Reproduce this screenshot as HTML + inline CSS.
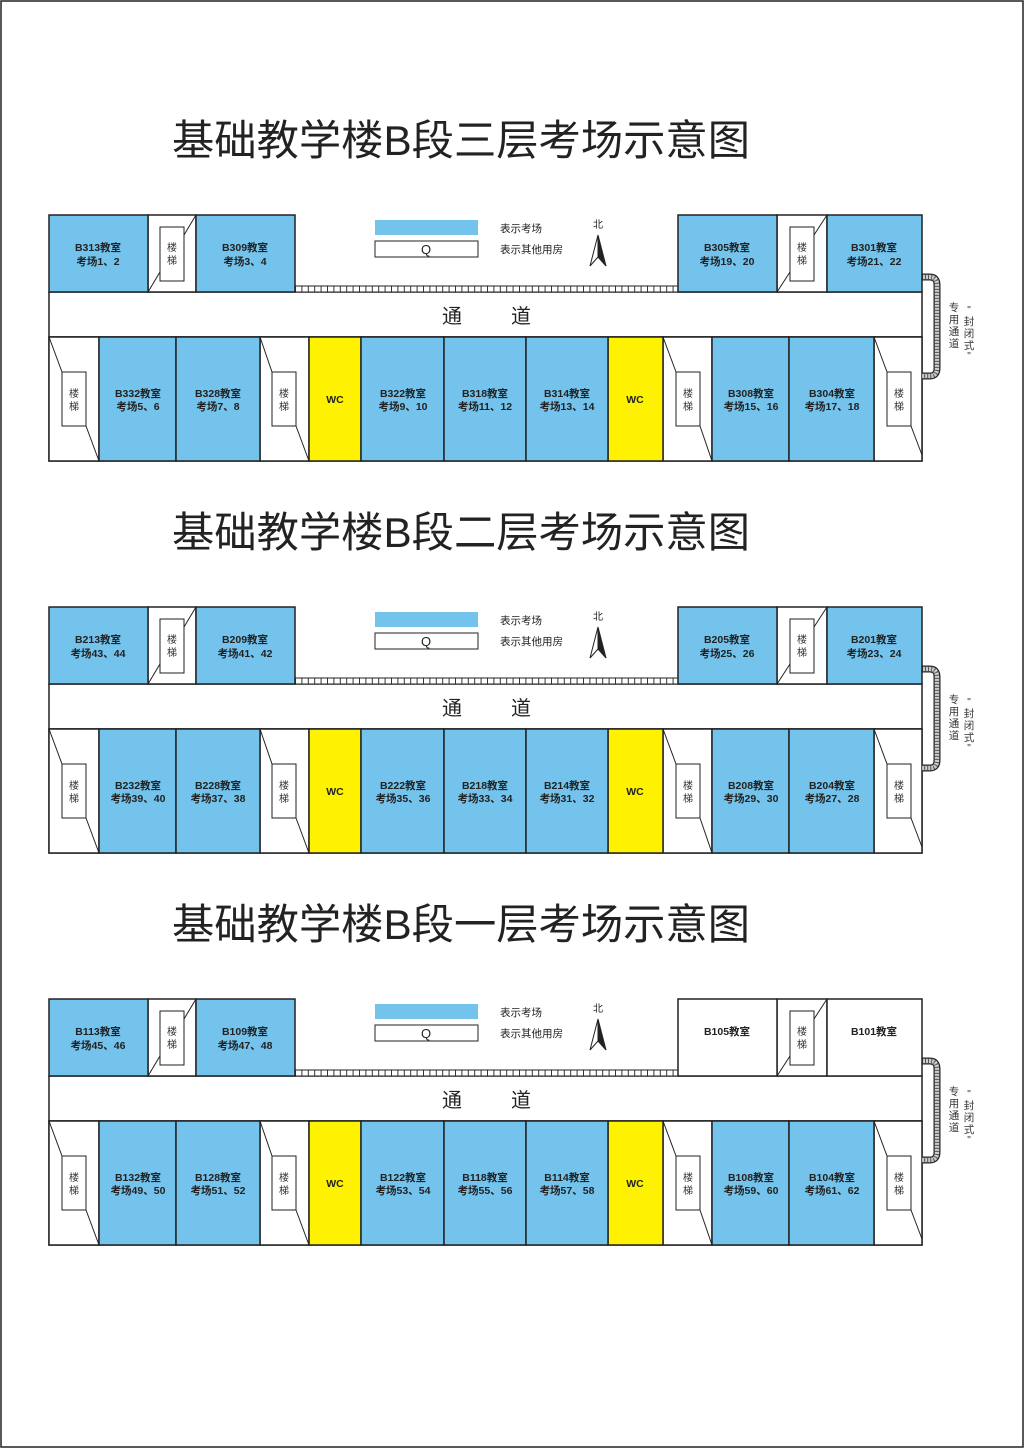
<!DOCTYPE html>
<html><head><meta charset="utf-8"><style>
html,body{margin:0;padding:0;background:#fff}
svg{display:block}
text{font-family:"Liberation Sans","Noto Sans CJK SC",sans-serif}
.r{font-size:10.5px;font-weight:bold;fill:#222;text-anchor:middle}
.s{font-size:10px;fill:#333;text-anchor:middle}
.t{font-size:42px;fill:#222}
.c{font-size:20px;fill:#222;text-anchor:middle}
.l{font-size:10.5px;fill:#222}
</style></head><body>
<svg width="1024" height="1448" viewBox="0 0 1024 1448" xmlns="http://www.w3.org/2000/svg">
<defs>
<pattern id="rail" x="295" y="0" width="6.4" height="10" patternUnits="userSpaceOnUse">
<rect width="6.4" height="10" fill="#fff"/><line x1="0.5" y1="0" x2="0.5" y2="10" stroke="#333" stroke-width="1"/>
</pattern>
<g id="frame" stroke="#222" stroke-width="1.5" fill="none">
<rect x="49" y="292" width="873" height="45" fill="#fff"/>
<rect x="49" y="337" width="873" height="124" fill="#fff"/>
<rect x="295" y="286" width="383" height="6" fill="url(#rail)" stroke-width="1"/>
<rect x="148" y="215" width="48" height="77" fill="#fff"/>
<rect x="160" y="227" width="24" height="54" fill="#fff" stroke-width="1"/>
<line x1="196" y1="215" x2="184" y2="235" stroke-width="1"/><line x1="148" y1="292" x2="160" y2="272" stroke-width="1"/>
<rect x="777" y="215" width="50" height="77" fill="#fff"/>
<rect x="790" y="227" width="24" height="54" fill="#fff" stroke-width="1"/>
<line x1="827" y1="215" x2="814" y2="235" stroke-width="1"/><line x1="777" y1="292" x2="790" y2="272" stroke-width="1"/>
<rect x="49" y="337" width="50" height="124" fill="#fff"/>
<rect x="62" y="372" width="24" height="54" fill="#fff" stroke-width="1"/>
<line x1="49" y1="337" x2="62" y2="372" stroke-width="1"/><line x1="86" y1="426" x2="99" y2="461" stroke-width="1"/>
<rect x="260" y="337" width="49" height="124" fill="#fff"/>
<rect x="272" y="372" width="24" height="54" fill="#fff" stroke-width="1"/>
<line x1="260" y1="337" x2="272" y2="372" stroke-width="1"/><line x1="296" y1="426" x2="309" y2="461" stroke-width="1"/>
<rect x="663" y="337" width="49" height="124" fill="#fff"/>
<rect x="676" y="372" width="24" height="54" fill="#fff" stroke-width="1"/>
<line x1="663" y1="337" x2="676" y2="372" stroke-width="1"/><line x1="700" y1="426" x2="712" y2="461" stroke-width="1"/>
<rect x="874" y="337" width="48" height="124" fill="#fff"/>
<rect x="887" y="372" width="24" height="54" fill="#fff" stroke-width="1"/>
<line x1="874" y1="337" x2="887" y2="372" stroke-width="1"/><line x1="911" y1="426" x2="922" y2="455" stroke-width="1"/>
<rect x="309" y="337" width="52" height="124" fill="#fff200"/>
<rect x="608" y="337" width="55" height="124" fill="#fff200"/>
<g fill="#74c3ec">
<rect x="99" y="337" width="77" height="124"/><rect x="176" y="337" width="84" height="124"/>
<rect x="361" y="337" width="83" height="124"/><rect x="444" y="337" width="82" height="124"/><rect x="526" y="337" width="82" height="124"/>
<rect x="712" y="337" width="77" height="124"/><rect x="789" y="337" width="85" height="124"/>
</g>
<path d="M922 277 H930 Q937 277 937 285 V368 Q937 376 930 376 H922" stroke="#222" stroke-width="7"/>
<path d="M922 277 H930 Q937 277 937 285 V368 Q937 376 930 376 H922" stroke="#ccc" stroke-width="4.5"/>
<path d="M922 277 H930 Q937 277 937 285 V368 Q937 376 930 376 H922" stroke="#555" stroke-width="4.5" stroke-dasharray="1 2"/>
<rect x="375" y="220" width="103" height="15" fill="#74c3ec" stroke="none"/>
<rect x="375" y="241" width="103" height="16" fill="#fff" stroke-width="1"/>
<path d="M598 235 L590 266 L598 257 Z" fill="#fff" stroke-width="1"/>
<path d="M598 235 L606 266 L598 257 Z" fill="#222" stroke-width="1"/>
</g>
<g id="ftext">
<text class="s" x="172" y="251">楼</text><text class="s" x="172" y="264">梯</text>
<text class="s" x="802" y="251">楼</text><text class="s" x="802" y="264">梯</text>
<text class="s" x="74" y="397">楼</text><text class="s" x="74" y="410">梯</text>
<text class="s" x="284" y="397">楼</text><text class="s" x="284" y="410">梯</text>
<text class="s" x="688" y="397">楼</text><text class="s" x="688" y="410">梯</text>
<text class="s" x="899" y="397">楼</text><text class="s" x="899" y="410">梯</text>
<text class="r" x="335" y="403">WC</text><text class="r" x="635" y="403">WC</text>
<text class="c" x="452" y="323">通</text><text class="c" x="521" y="323">道</text>
<text x="426" y="254" style="font-size:13px;text-anchor:middle;fill:#222">Q</text>
<text class="l" x="500" y="232">表示考场</text><text class="l" x="500" y="253">表示其他用房</text>
<text x="598" y="228" style="font-size:10px;text-anchor:middle;fill:#222">北</text>
<text x="954" y="311" style="font-size:10.5px;fill:#333;text-anchor:middle">专</text>
<text x="954" y="323" style="font-size:10.5px;fill:#333;text-anchor:middle">用</text>
<text x="954" y="335" style="font-size:10.5px;fill:#333;text-anchor:middle">通</text>
<text x="954" y="347" style="font-size:10.5px;fill:#333;text-anchor:middle">道</text>
<text x="969" y="313" style="font-size:10px;fill:#333;text-anchor:middle">"</text>
<text x="969" y="325" style="font-size:10.5px;fill:#333;text-anchor:middle">封</text>
<text x="969" y="337" style="font-size:10.5px;fill:#333;text-anchor:middle">闭</text>
<text x="969" y="349" style="font-size:10.5px;fill:#333;text-anchor:middle">式</text>
<text x="969" y="359" style="font-size:10px;fill:#333;text-anchor:middle">"</text>
</g>
</defs>
<rect x="1" y="1" width="1022" height="1446" fill="#fff" stroke="#222" stroke-width="1.5"/>

<text class="t" x="172" y="155" textLength="578" lengthAdjust="spacingAndGlyphs">基础教学楼B段三层考场示意图</text>
<use href="#frame"/>
<g stroke="#222" stroke-width="1.5" fill="#74c3ec">
<rect x="49" y="215" width="99" height="77"/><rect x="196" y="215" width="99" height="77"/>
<rect x="678" y="215" width="99" height="77"/><rect x="827" y="215" width="95" height="77"/>
</g>
<use href="#ftext"/>
<g>
<text class="r" x="98" y="251">B313教室</text><text class="r" x="98" y="265">考场1、2</text>
<text class="r" x="245" y="251">B309教室</text><text class="r" x="245" y="265">考场3、4</text>
<text class="r" x="727" y="251">B305教室</text><text class="r" x="727" y="265">考场19、20</text>
<text class="r" x="874" y="251">B301教室</text><text class="r" x="874" y="265">考场21、22</text>
<text class="r" x="138" y="397">B332教室</text><text class="r" x="138" y="410">考场5、6</text>
<text class="r" x="218" y="397">B328教室</text><text class="r" x="218" y="410">考场7、8</text>
<text class="r" x="403" y="397">B322教室</text><text class="r" x="403" y="410">考场9、10</text>
<text class="r" x="485" y="397">B318教室</text><text class="r" x="485" y="410">考场11、12</text>
<text class="r" x="567" y="397">B314教室</text><text class="r" x="567" y="410">考场13、14</text>
<text class="r" x="751" y="397">B308教室</text><text class="r" x="751" y="410">考场15、16</text>
<text class="r" x="832" y="397">B304教室</text><text class="r" x="832" y="410">考场17、18</text>
</g>

<text class="t" x="172" y="547" textLength="578" lengthAdjust="spacingAndGlyphs">基础教学楼B段二层考场示意图</text>
<g transform="translate(0,392)">
<use href="#frame"/>
<g stroke="#222" stroke-width="1.5" fill="#74c3ec">
<rect x="49" y="215" width="99" height="77"/><rect x="196" y="215" width="99" height="77"/>
<rect x="678" y="215" width="99" height="77"/><rect x="827" y="215" width="95" height="77"/>
</g>
<use href="#ftext"/>
<text class="r" x="98" y="251">B213教室</text><text class="r" x="98" y="265">考场43、44</text>
<text class="r" x="245" y="251">B209教室</text><text class="r" x="245" y="265">考场41、42</text>
<text class="r" x="727" y="251">B205教室</text><text class="r" x="727" y="265">考场25、26</text>
<text class="r" x="874" y="251">B201教室</text><text class="r" x="874" y="265">考场23、24</text>
<text class="r" x="138" y="397">B232教室</text><text class="r" x="138" y="410">考场39、40</text>
<text class="r" x="218" y="397">B228教室</text><text class="r" x="218" y="410">考场37、38</text>
<text class="r" x="403" y="397">B222教室</text><text class="r" x="403" y="410">考场35、36</text>
<text class="r" x="485" y="397">B218教室</text><text class="r" x="485" y="410">考场33、34</text>
<text class="r" x="567" y="397">B214教室</text><text class="r" x="567" y="410">考场31、32</text>
<text class="r" x="751" y="397">B208教室</text><text class="r" x="751" y="410">考场29、30</text>
<text class="r" x="832" y="397">B204教室</text><text class="r" x="832" y="410">考场27、28</text>
</g>

<text class="t" x="172" y="939" textLength="578" lengthAdjust="spacingAndGlyphs">基础教学楼B段一层考场示意图</text>
<g transform="translate(0,784)">
<use href="#frame"/>
<g stroke="#222" stroke-width="1.5" fill="#74c3ec">
<rect x="49" y="215" width="99" height="77"/><rect x="196" y="215" width="99" height="77"/>
<rect x="678" y="215" width="99" height="77" fill="#fff"/><rect x="827" y="215" width="95" height="77" fill="#fff"/>
</g>
<use href="#ftext"/>
<text class="r" x="98" y="251">B113教室</text><text class="r" x="98" y="265">考场45、46</text>
<text class="r" x="245" y="251">B109教室</text><text class="r" x="245" y="265">考场47、48</text>
<text class="r" x="727" y="251">B105教室</text>
<text class="r" x="874" y="251">B101教室</text>
<text class="r" x="138" y="397">B132教室</text><text class="r" x="138" y="410">考场49、50</text>
<text class="r" x="218" y="397">B128教室</text><text class="r" x="218" y="410">考场51、52</text>
<text class="r" x="403" y="397">B122教室</text><text class="r" x="403" y="410">考场53、54</text>
<text class="r" x="485" y="397">B118教室</text><text class="r" x="485" y="410">考场55、56</text>
<text class="r" x="567" y="397">B114教室</text><text class="r" x="567" y="410">考场57、58</text>
<text class="r" x="751" y="397">B108教室</text><text class="r" x="751" y="410">考场59、60</text>
<text class="r" x="832" y="397">B104教室</text><text class="r" x="832" y="410">考场61、62</text>
</g>
</svg>
</body></html>
